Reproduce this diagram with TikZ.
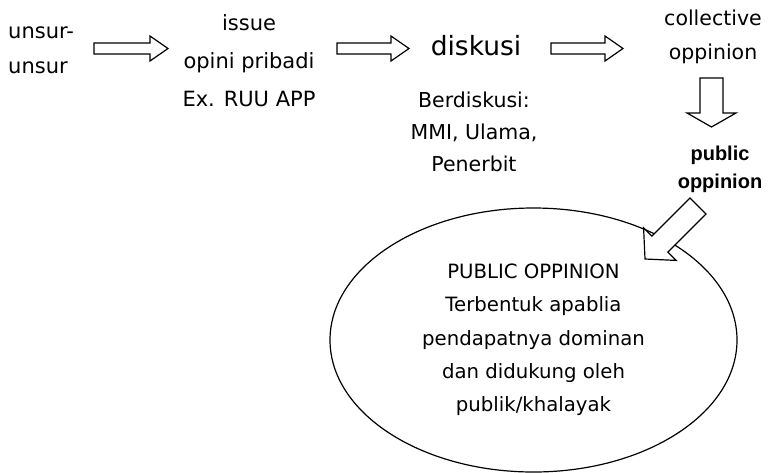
\documentclass[tikz,border=0pt]{standalone}
\usepackage{fontspec}
\setmainfont{DejaVu Sans}
\newfontfamily\arialbold{Liberation Sans}
\usetikzlibrary{calc,shapes.geometric}

% panah blok: #1 pangkal, #2 ujung, #3 setengah batang, #4 setengah kepala, #5 panjang kepala
\newcommand{\blokpanah}[5]{%
  \coordinate (kp) at ($(#2)!#5!(#1)$);
  \draw[panah] ($(#1)!#3!90:(#2)$) -- ($(kp)!#3!90:(#2)$) -- ($(kp)!#4!90:(#2)$)
    -- (#2) -- ($(kp)!#4!-90:(#2)$) -- ($(kp)!#3!-90:(#2)$) -- ($(#1)!#3!-90:(#2)$) -- cycle;}

\begin{document}
\begin{tikzpicture}[x=1pt, y=-1pt,
    panah/.style={draw=black, fill=white, line width=1.2pt, line join=miter},
    teks/.style={inner sep=0pt, align=center}]
  \useasboundingbox (0,0) rectangle (770,472);
  % teks baris atas
  \node[teks, align=left, anchor=west, font=\fontsize{21}{35}\selectfont]
        (unsur) at (8,50) {unsur-\\unsur};
  \node[teks, font=\fontsize{21}{38}\selectfont]
        (isu) at (249,61) {issue\\opini pribadi\\Ex. RUU APP};
  \node[teks, font=\fontsize{26.5}{30}\selectfont]
        (diskusi) at (476,46) {diskusi};
  \node[teks, font=\fontsize{20.5}{32}\selectfont]
        (berdiskusi) at (474,132) {Berdiskusi:\\MMI, Ulama,\\Penerbit};
  \node[teks, font=\fontsize{20.5}{34}\selectfont]
        (kolektif) at (713,37) {collective\\oppinion};
  \node[teks, font=\arialbold\bfseries\fontsize{20}{28}\selectfont]
        (publik) at (720,169) {public\\oppinion};
  % elips public opinion
  \node[ellipse, draw, line width=1.2pt, minimum width=407pt, minimum height=264pt,
        inner sep=0pt, align=center, font=\fontsize{19.7}{33.3}\selectfont]
        (po) at (533.5,340)
        {PUBLIC OPPINION\\Terbentuk apablia\\pendapatnya dominan\\dan didukung oleh\\publik/khalayak};
  % titik ujung panah
  \coordinate (a1) at (94,48.5);    \coordinate (b1) at (168,48.5);
  \coordinate (a2) at (337,48.5);   \coordinate (b2) at (409,48.5);
  \coordinate (a3) at (551,48.5);   \coordinate (b3) at (623,48.5);
  \coordinate (a4) at (711.5,78);   \coordinate (b4) at (711.5,127);
  \coordinate (a5) at (698,206);    \coordinate (b5) at (645,259);
  % panah
  \blokpanah{a1}{b1}{5.5pt}{12.5pt}{18pt}
  \blokpanah{a2}{b2}{5.5pt}{12.5pt}{18pt}
  \blokpanah{a3}{b3}{5.5pt}{12.5pt}{18pt}
  \blokpanah{a4}{b4}{11.5pt}{24.5pt}{14pt}
  \blokpanah{a5}{b5}{11.3pt}{23pt}{21pt}
\end{tikzpicture}
\end{document}
